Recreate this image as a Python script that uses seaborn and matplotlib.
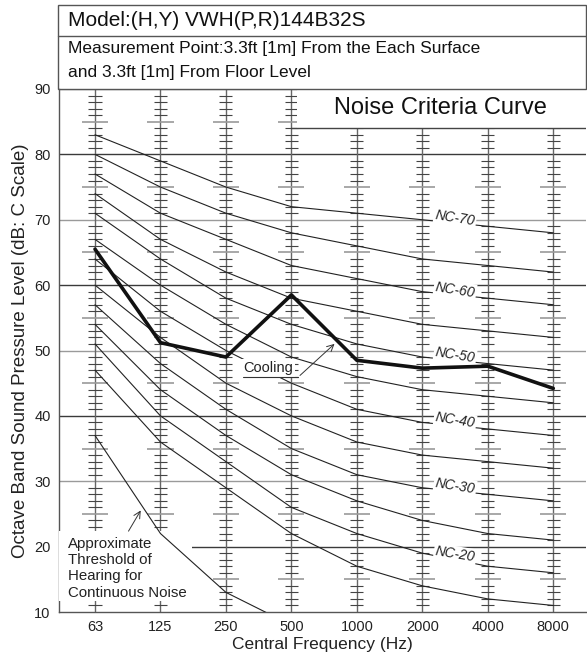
import numpy as np
import pandas as pd
import matplotlib
matplotlib.use("Agg")
import matplotlib.pyplot as plt
import seaborn as sns
from matplotlib.patches import Rectangle
from matplotlib.lines import Line2D

# Octave band centre frequencies (Hz)
freq_labels = ["63", "125", "250", "500", "1000", "2000", "4000", "8000"]

# Noise Criteria reference curves (dB)
nc_names = ["NC-15", "NC-20", "NC-25", "NC-30", "NC-35", "NC-40",
            "NC-45", "NC-50", "NC-55", "NC-60", "NC-65", "NC-70"]
nc_15 = [47, 36, 29, 22, 17, 14, 12, 11]
nc_20 = [51, 40, 33, 26, 22, 19, 17, 16]
nc_25 = [54, 44, 37, 31, 27, 24, 22, 21]
nc_30 = [57, 48, 41, 35, 31, 29, 28, 27]
nc_35 = [60, 52, 45, 40, 36, 34, 33, 32]
nc_40 = [64, 56, 50, 45, 41, 39, 38, 37]
nc_45 = [67, 60, 54, 49, 46, 44, 43, 42]
nc_50 = [71, 64, 58, 54, 51, 49, 48, 47]
nc_55 = [74, 67, 62, 58, 56, 54, 53, 52]
nc_60 = [77, 71, 67, 63, 61, 59, 58, 57]
nc_65 = [80, 75, 71, 68, 66, 64, 63, 62]
nc_70 = [83, 79, 75, 72, 71, 70, 69, 68]
nc_values = [nc_15, nc_20, nc_25, nc_30, nc_35, nc_40,
             nc_45, nc_50, nc_55, nc_60, nc_65, nc_70]
nc_labelled = ["NC-20", "NC-30", "NC-40", "NC-50", "NC-60", "NC-70"]

# Measured unit levels, cooling operation (dB)
cooling = [65.5, 51.2, 49.0, 58.5, 48.5, 47.3, 47.6, 44.2]

# Approximate threshold of hearing for continuous noise (63..500 Hz)
threshold = [37, 22, 13, 8]

y_ticks = [10, 20, 30, 40, 50, 60, 70, 80, 90]

# ---------------------------------------------------------------------------
sns.set_theme(style="white")
plt.rcParams["font.family"] = ["Liberation Sans", "DejaVu Sans"]

W, H = 587, 658
fig = plt.figure(figsize=(W / 100, H / 100), dpi=100)
fig.patch.set_facecolor("white")

ax_l, ax_r, ax_t, ax_b = 59, 586, 89, 612
ax = fig.add_axes([ax_l / W, 1 - ax_b / H, (ax_r - ax_l) / W, (ax_b - ax_t) / H])
ax.set_facecolor("white")

pos = np.arange(len(freq_labels))

# Horizontal grid: alternating dark / grey decade lines
for v in y_ticks[1:]:
    c = "#3a3a3a" if v % 20 == 0 else "#9a9a9a"
    ax.axhline(v, color=c, lw=1.0, zorder=1)

# Ladder scales on each frequency line
for p in pos:
    ax.vlines(p, 10, 90, color="#666666", lw=1.0, zorder=1.5)
    for v in range(11, 90):
        if v % 10 == 0:
            continue
        if v % 5 == 0:
            ax.hlines(v, p - 0.2, p + 0.2, color="#9a9a9a", lw=1.2, zorder=1.5)
        else:
            ax.hlines(v, p - 0.1, p + 0.1, color="#444444", lw=0.8, zorder=1.5)

# NC curves
nc_df = pd.DataFrame({
    "pos": np.tile(pos, len(nc_names)),
    "level": np.concatenate(nc_values),
    "curve": np.repeat(nc_names, len(pos)),
})
sns.lineplot(data=nc_df, x="pos", y="level", units="curve", estimator=None,
             color="#222222", lw=0.8, ax=ax, zorder=2, legend=False)

# Threshold of hearing curve
sns.lineplot(x=pos[:len(threshold)], y=threshold, color="#222222", lw=0.8,
             ax=ax, zorder=4, legend=False)

# Cooling measurement
sns.lineplot(x=pos, y=cooling, color="#111111", lw=2.6, ax=ax, zorder=6,
             legend=False)

ax.set_xlim(-0.55, 7.50)
ax.set_ylim(10, 90)
ax.set_xticks(pos)
ax.set_xticklabels(freq_labels)
ax.set_yticks(y_ticks)
ax.tick_params(axis="both", labelsize=10.5, colors="#222222", length=3,
               width=0.8, pad=3, direction="out")
ax.tick_params(axis="x", length=0, pad=6)
for s in ["top", "right"]:
    ax.spines[s].set_visible(False)
for s in ["left", "bottom"]:
    ax.spines[s].set_color("#555555")
    ax.spines[s].set_linewidth(1.0)
ax.axhline(90, color="#9a9a9a", lw=1.2, zorder=1)

ax.set_xlabel("Central Frequency (Hz)", fontsize=12.5, color="#222222", labelpad=2)
ax.set_ylabel("Octave Band Sound Pressure Level (dB: C Scale)", fontsize=13.5,
              color="#222222", labelpad=4)

# NC curve labels
for name in nc_labelled:
    vals = nc_values[nc_names.index(name)]
    yv = (vals[5] + vals[6]) / 2 + 0.8
    ax.text(5.5, yv, name, fontsize=10, style="italic", rotation=-9,
            ha="center", va="center", color="#222222", zorder=5,
            bbox=dict(boxstyle="square,pad=0.1", fc="white", ec="none"))

# Chart title box inside plot area
ax.add_patch(Rectangle((3.08, 84.0), 5.0, 6.0, fc="white", ec="none", zorder=5))
ax.plot([3.0, 7.5], [84.0, 84.0], color="#444444", lw=1.0, zorder=5.5)
ax.text(5.27, 87.1, "Noise Criteria Curve", fontsize=17, ha="center",
        va="center", color="#111111", zorder=6)

# Threshold annotation
ax.add_patch(Rectangle((-0.55, 11.7), 2.03, 10.7, fc="white", ec="none", zorder=3))
ax.text(-0.42, 16.7, "Approximate\nThreshold of\nHearing for\nContinuous Noise",
        fontsize=10.8, ha="left", va="center", linespacing=1.22, color="#222222",
        zorder=3.5)
ax.annotate("", xy=(0.72, 25.9), xytext=(0.49, 22.0),
            arrowprops=dict(arrowstyle="->", lw=0.7, color="#333333"), zorder=4)

# Cooling annotation
ax.text(2.26, 46.3, "Cooling", fontsize=10.5, ha="left", va="bottom",
        color="#222222", zorder=5,
        bbox=dict(boxstyle="square,pad=0.15", fc="white", ec="none"))
ax.plot([2.26, 3.1], [45.9, 45.9], color="#333333", lw=0.8, zorder=5)
ax.annotate("", xy=(3.69, 51.3), xytext=(3.1, 45.9),
            arrowprops=dict(arrowstyle="->", lw=0.7, color="#333333"), zorder=5)

# Header block above the chart
def fx(px):
    return px / W

def fy(py):
    return 1 - py / H

fig.add_artist(Rectangle((fx(58), fy(89)), fx(586) - fx(58), fy(5) - fy(89),
                         transform=fig.transFigure, fill=False,
                         ec="#555555", lw=1.0))
fig.add_artist(Line2D([fx(58), fx(586)], [fy(36), fy(36)],
                      transform=fig.transFigure, color="#555555", lw=1.0))
fig.text(fx(68), fy(21), "Model:(H,Y) VWH(P,R)144B32S", fontsize=15,
         ha="left", va="center", color="#111111")
fig.text(fx(68), fy(48), "Measurement Point:3.3ft [1m] From the Each Surface",
         fontsize=12.5, ha="left", va="center", color="#111111")
fig.text(fx(68), fy(73), "and 3.3ft [1m] From Floor Level",
         fontsize=12.5, ha="left", va="center", color="#111111")

fig.savefig("out.png", dpi=100, facecolor="white")
